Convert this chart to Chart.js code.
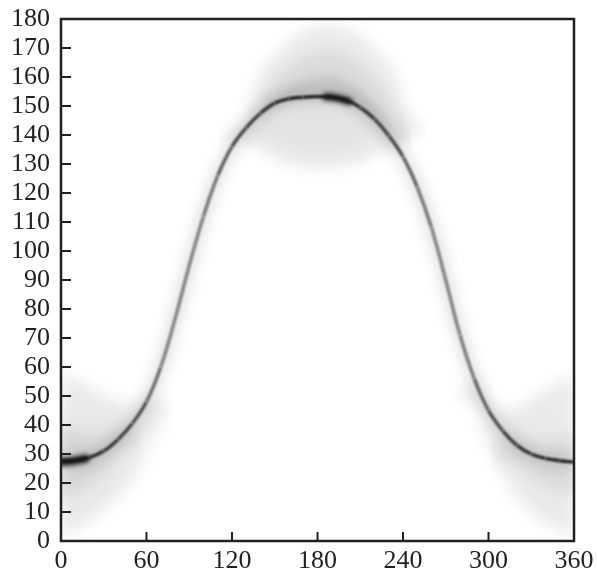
<!DOCTYPE html>
<html>
<head>
<meta charset="utf-8">
<script src="https://cdn.jsdelivr.net/npm/chart.js@4.4.1/dist/chart.umd.min.js"></script>
<style>
	html, body { margin: 0; padding: 0; background: #fff; }
	#cadre { width: 597px; height: 573px; }
</style>
</head>
<body>
<div id="cadre"><canvas id="Graphe" width="597" height="573"></canvas></div>
<script>
// courbe principale (angle en degres, valeur)
var angle = [0, 10, 20, 30, 40, 50, 60, 70, 80, 90, 100, 110, 120, 130, 140, 150, 160, 170, 180,
	190, 200, 210, 220, 230, 240, 250, 260, 270, 280, 290, 300, 310, 320, 330, 340, 350, 360];
var courbe = [27.5, 27.8, 28.8, 31, 35, 40.5, 48, 60, 76.5, 95, 112, 126, 136, 142.5, 147.5, 151, 152.5, 153, 153.3,
	153, 152, 149.5, 145.5, 139.8, 132.5, 122, 108, 90, 71, 56, 45, 38, 33, 30, 28.5, 27.7, 27.2];

// taches sombres
var tacheGaucheX = [0, 6, 12, 17];
var tacheGaucheY = [27.3, 27.5, 27.9, 28.4];
var tacheHautX = [186, 192, 198, 202];
var tacheHautY = [153.2, 152.9, 152.2, 151.6];

// nuages du sommet (les extremites ont une epaisseur nulle)
var nuageHautX = [112, 128, 138, 148, 158, 168, 178, 188, 198, 208, 218, 228, 236, 242, 256];
var nuageHautSup = [139, 146, 160, 167, 172, 175, 177.5, 178, 177, 175, 171, 166, 160, 150, 140];
var nuageHautInf = [139, 137, 135, 132, 130, 129, 128.5, 128.5, 129, 130, 132, 135, 137, 139, 140];
var dessousHautX = [128, 145, 160, 175, 190, 205, 220, 238];
var dessousHautSup = [141, 148, 151, 152.5, 152.5, 150.5, 145, 134];
var dessousHautInf = [140, 139, 136, 134, 134, 136, 139, 133];
var milieuHautX = [132, 145, 158, 170, 182, 194, 206, 218, 230, 246];
var milieuHautSup = [145, 156, 163, 167, 169, 169, 166, 161, 153, 138];
var milieuHautInf = [144, 148, 151, 152.5, 153, 152.8, 150.5, 146, 139, 138];
var coeurHautX = [140, 155, 170, 185, 200, 215, 232];
var coeurHautSup = [148, 155, 159, 160.5, 159, 153, 142];
var coeurHautInf = [147, 151, 153, 153.3, 152, 147.5, 141];

// nuages des extremites
var nuageGaucheX = [0, 10, 20, 30, 40, 50, 60, 78];
var nuageGaucheSup = [58, 56, 53, 50, 48, 47, 49, 48];
var nuageGaucheInf = [2, 4, 7, 11, 15, 21, 32, 48];
var coeurGaucheX = [0, 10, 20, 30, 40, 56];
var coeurGaucheSup = [40, 38, 36, 37, 39, 36];
var coeurGaucheInf = [14, 17, 20, 24, 30, 36];
var nuageDroitX = [276, 292, 300, 310, 320, 330, 340, 350, 360];
var nuageDroitSup = [50, 54, 48, 45, 46, 49, 52, 55, 57];
var nuageDroitInf = [50, 46, 33, 23, 15, 10, 6, 4, 2];
var coeurDroitX = [302, 318, 328, 338, 348, 360];
var coeurDroitSup = [30, 37, 35, 34, 35, 37];
var coeurDroitInf = [30, 27, 23, 20, 18, 16];

var ticksX = [0, 60, 120, 180, 240, 300, 360];

function points(xs, ys) {
	return xs.map(function (x, i) { return { x: x, y: ys[i] }; });
}

// flou par dataset (avant le Filler pour que le remplissage soit flou aussi)
var flou = {
	id: 'flou',
	beforeDatasetDraw: function (chart, args) {
		var b = chart.data.datasets[args.index].flou;
		chart.ctx.save();
		if (b) chart.ctx.filter = 'blur(' + b + 'px)';
	},
	afterDatasetDraw: function (chart) {
		chart.ctx.restore();
	}
};
if (Chart.Filler) {
	Chart.unregister(Chart.Filler);
	Chart.register(flou, Chart.Filler);
} else {
	Chart.register(flou);
}

// cadre et graduations vers l'interieur
var cadre = {
	id: 'cadre',
	afterDatasetsDraw: function (chart) {
		var ctx = chart.ctx;
		var a = chart.chartArea;
		var sx = chart.scales.x;
		var sy = chart.scales.y;
		ctx.save();
		ctx.strokeStyle = '#231f20';
		ctx.lineWidth = 2;
		ctx.beginPath();
		sx.ticks.forEach(function (t) {
			var px = sx.getPixelForValue(t.value);
			ctx.moveTo(px, a.bottom);
			ctx.lineTo(px, a.bottom - 9);
		});
		sy.ticks.forEach(function (t) {
			var py = sy.getPixelForValue(t.value);
			ctx.moveTo(a.left, py);
			ctx.lineTo(a.left + 10, py);
		});
		ctx.stroke();
		ctx.lineWidth = 2.5;
		ctx.strokeRect(a.left, a.top, a.right - a.left, a.bottom - a.top);
		ctx.restore();
	}
};

function zone(xs, sup, inf, couleur, b, ordre) {
	return [
		{ data: points(xs, sup), fill: '+1', backgroundColor: couleur, borderColor: 'transparent', borderWidth: 0, tension: 0.4, flou: b, order: ordre },
		{ data: points(xs, inf), fill: false, borderColor: 'transparent', borderWidth: 0, tension: 0.4, order: ordre }
	];
}

var datasets = [];
datasets = datasets.concat(zone(nuageHautX, nuageHautSup, nuageHautInf, '#ebebeb', 7, 10));
datasets = datasets.concat(zone(dessousHautX, dessousHautSup, dessousHautInf, '#e3e3e3', 7, 9));
datasets = datasets.concat(zone(milieuHautX, milieuHautSup, milieuHautInf, '#dbdbdb', 6, 8));
datasets = datasets.concat(zone(coeurHautX, coeurHautSup, coeurHautInf, '#c6c6c6', 5, 7));
datasets = datasets.concat(zone(nuageGaucheX, nuageGaucheSup, nuageGaucheInf, '#e9e9e9', 8, 9));
datasets = datasets.concat(zone(coeurGaucheX, coeurGaucheSup, coeurGaucheInf, '#d4d4d4', 8, 8));
datasets = datasets.concat(zone(nuageDroitX, nuageDroitSup, nuageDroitInf, '#eaeaea', 8, 9));
datasets = datasets.concat(zone(coeurDroitX, coeurDroitSup, coeurDroitInf, '#d8d8d8', 8, 8));

// halo autour de la courbe
datasets.push({
	data: points(angle, courbe), borderColor: 'rgba(0,0,0,0.09)', borderWidth: 16,
	tension: 0.4, fill: false, flou: 6, order: 5
});
// courbe, plus claire la ou elle est raide
datasets.push({
	data: points(angle, courbe), borderWidth: 3.5, tension: 0.4, fill: false, flou: 0.8, order: 3,
	segment: {
		borderColor: function (c) {
			var pente = Math.abs((c.p1.y - c.p0.y) / (c.p1.x - c.p0.x || 1));
			var g = Math.round(30 + 100 * Math.min(1, pente / 3.2));
			return 'rgb(' + g + ',' + g + ',' + g + ')';
		}
	}
});
datasets.push({ data: points(tacheGaucheX, tacheGaucheY), borderColor: '#141414', borderWidth: 8, borderCapStyle: 'round', tension: 0.4, fill: false, flou: 2.5, order: 1 });
datasets.push({ data: points(tacheHautX, tacheHautY), borderColor: '#161616', borderWidth: 7, borderCapStyle: 'round', tension: 0.4, fill: false, flou: 2.5, order: 1 });

var police = { family: "'Liberation Serif', 'Times New Roman', serif", size: 26 };

var chart = new Chart(document.getElementById('Graphe'), {
	type: 'line',
	data: { datasets: datasets },
	options: {
		responsive: false,
		animation: false,
		events: [],
		layout: { padding: { left: 0, top: 19, right: 23, bottom: 0 } },
		elements: { point: { radius: 0 } },
		datasets: { line: { clip: 0 } },
		plugins: { legend: { display: false }, tooltip: { enabled: false } },
		scales: {
			x: {
				type: 'linear', min: 0, max: 360,
				afterBuildTicks: function (s) { s.ticks = ticksX.map(function (v) { return { value: v }; }); },
				ticks: { color: '#231f20', font: police, padding: 5, maxRotation: 0, autoSkip: false },
				grid: { display: false, drawTicks: false },
				border: { display: false },
				afterFit: function (s) { s.height = 32; s.paddingLeft = 0; s.paddingRight = 0; }
			},
			y: {
				type: 'linear', min: 0, max: 180,
				ticks: { stepSize: 10, color: '#231f20', font: police, padding: 11, autoSkip: false },
				grid: { display: false, drawTicks: false },
				border: { display: false },
				afterFit: function (s) { s.width = 61; s.paddingTop = 0; s.paddingBottom = 0; }
			}
		}
	},
	plugins: [cadre]
});
</script>
</body>
</html>
